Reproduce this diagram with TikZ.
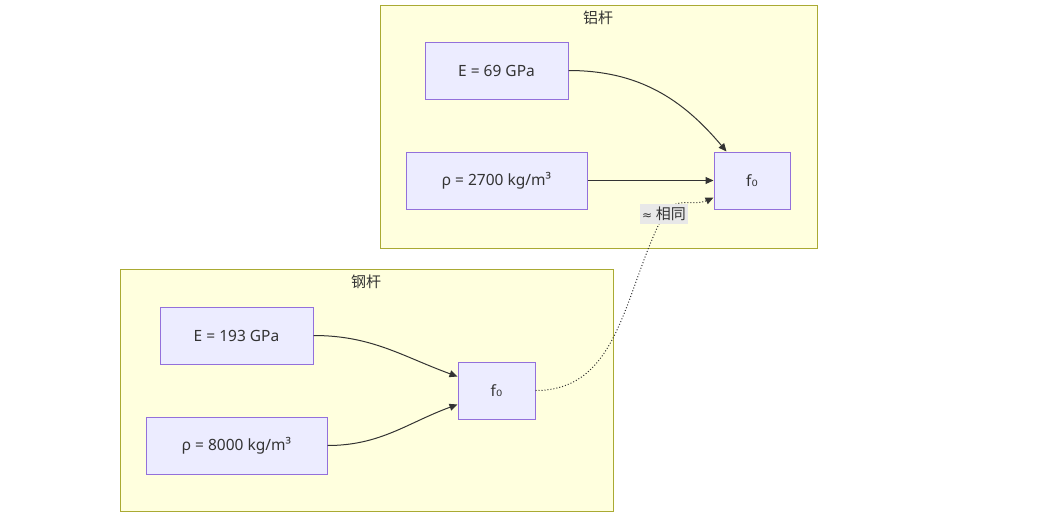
\documentclass[tikz,border=0pt]{standalone}
\usepackage{fontspec}
\setmainfont{Noto Sans}
\newfontfamily\cjk{Noto Sans CJK SC}
\newfontfamily\dvs{DejaVu Sans}
\usetikzlibrary{arrows.meta,calc}
\definecolor{clfill}{HTML}{FFFFDE}
\definecolor{clline}{HTML}{AAAA33}
\definecolor{ndfill}{HTML}{ECECFF}
\definecolor{ndline}{HTML}{9370DB}
\definecolor{ink}{HTML}{333333}
\definecolor{lblbg}{HTML}{E8E8E8}
\begin{document}
\begin{tikzpicture}[x=1pt,y=-1pt,
  cluster/.style={draw=clline,fill=clfill,line width=1pt},
  box/.style={draw=ndline,fill=ndfill,line width=1pt,text=ink,font=\fontsize{15.5}{18}\selectfont},
  title/.style={text=ink,font=\cjk\fontsize{15}{18}\selectfont},
  conn/.style={draw=ink,line width=1pt,-{Triangle[length=8pt,width=7pt]}},
  lbl/.style={fill=lblbg,text=ink,inner xsep=2pt,inner ysep=3pt,font=\fontsize{15}{18}\selectfont}]
\useasboundingbox (0,0) rectangle (1063,520);
% clusters
\draw[cluster] (380,5) rectangle (817,248);
\node[title] (t1) at (598,18) {铝杆};
\draw[cluster] (120,269) rectangle (613,511);
\node[title] (t2) at (366,282) {钢杆};
% nodes
\node[box,minimum width=143pt,minimum height=57pt] (e69) at (496.5,70.5) {E = 69 GPa};
\node[box,minimum width=181pt,minimum height=57pt] (r27) at (496.5,180.5) {ρ = 2700 kg/m³};
\node[box,minimum width=76pt,minimum height=57pt] (fa) at (752,180.5) {f{\dvs ₀}};
\node[box,minimum width=153pt,minimum height=57pt] (e193) at (236.5,335.5) {E = 193 GPa};
\node[box,minimum width=181pt,minimum height=57pt] (r80) at (236.5,445.5) {ρ = 8000 kg/m³};
\node[box,minimum width=77pt,minimum height=57pt] (fb) at (496.5,390.5) {f{\dvs ₀}};
% connector endpoints
\coordinate (faN) at ($(fa.north west)+(13,0)$);
\coordinate (faW) at ($(fa.west)+(0,17)$);
\coordinate (fbW1) at ($(fb.west)+(0,-14)$);
\coordinate (fbW2) at ($(fb.west)+(0,14)$);
\coordinate (mid) at (664,214);
% edges
\draw[conn] (e69.east) to[out=0,in=130] (faN);
\draw[conn] (r27.east) -- (fa.west);
\draw[conn] (e193.east) to[out=0,in=160] (fbW1);
\draw[conn] (r80.east) to[out=0,in=200] (fbW2);
\draw[conn,dotted] (fb.east) to[out=0,in=-118] (mid) to[out=62,in=205] (faW);
\node[lbl] (l1) at (mid) {{\dvs\fontsize{12}{14}\selectfont ≈} {\cjk 相同}};
\end{tikzpicture}
\end{document}
